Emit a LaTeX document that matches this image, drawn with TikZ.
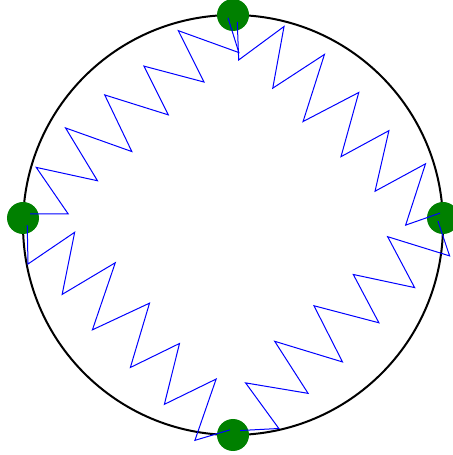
\documentclass[tikz,border=0pt]{standalone}
\usepackage{tikz}
\usetikzlibrary{calc}
\definecolor{massgreen}{RGB}{0,128,0}
\definecolor{springblue}{RGB}{0,0,255}

% zigzag spring from one mass to the next (offsets to the right of travel)
\newcommand{\drawspring}[2]{%
  \draw[springline] ($(#1)!0.027!(#2)!2bp!-90:(#2)$)
    \foreach \t/\o in {0.121/28.4bp, 0.153/-27.2bp, 0.272/25bp, 0.319/-35.2bp,
                       0.426/27.9bp, 0.494/-31.7bp, 0.603/26.8bp, 0.659/-25.2bp,
                       0.769/28bp, 0.828/-26.8bp, 0.925/31.1bp, 0.981/-1.5bp}
    { -- ($(#1)!\t!(#2)!\o!-90:(#2)$) };
}

\begin{document}
\begin{tikzpicture}[
  x=1bp, y=1bp,
  ring/.style={draw=black, line width=2bp},
  mass/.style={circle, fill=massgreen, minimum size=32bp, inner sep=0pt},
  springline/.style={draw=springblue, line width=1bp}
]
\useasboundingbox (0,0) rectangle (453,455);
\coordinate (c) at (233,230);
\draw[ring] (c) circle[radius=210];
\node[mass] (mtop) at (233,440) {};
\node[mass] (mleft) at (23,237) {};
\node[mass] (mright) at (443,237) {};
\node[mass] (mbot) at (233,20) {};
\drawspring{mleft}{mtop}
\drawspring{mtop}{mright}
\drawspring{mbot}{mright}
\drawspring{mleft}{mbot}
\end{tikzpicture}
\end{document}
